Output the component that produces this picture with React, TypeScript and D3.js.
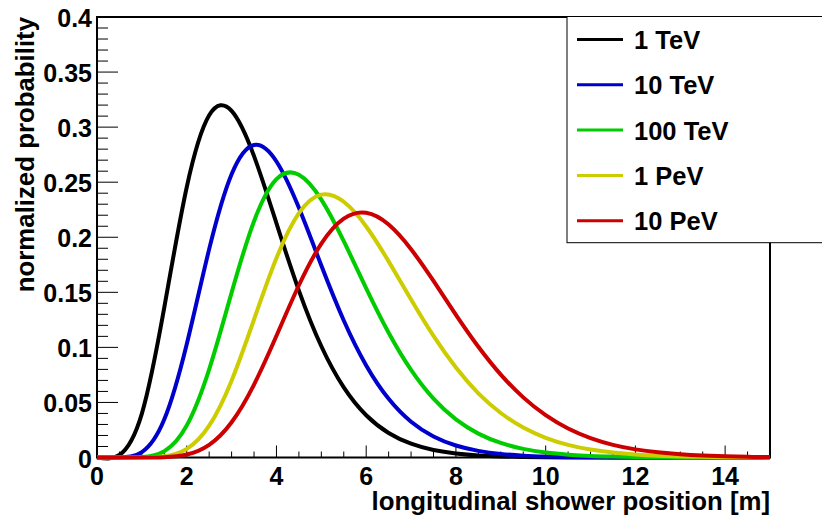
import React from "react";
import * as d3 from "d3";

const xValues = [0, 0.5, 1, 1.5, 2, 2.5, 3, 3.5, 4, 4.5, 5, 5.5, 6, 6.5, 7, 7.5, 8, 8.5, 9, 9.5, 10, 10.5, 11, 11.5, 12, 12.5, 13, 13.5, 14, 14.5, 15];

const tev1 = [0, 0.0024, 0.0399, 0.1363, 0.2454, 0.3107, 0.3148, 0.2737, 0.2126, 0.1516, 0.101, 0.0637, 0.0384, 0.0223, 0.0125, 0.0068, 0.0037, 0.0019, 0.001, 0.0005, 0.0002, 0.0001, 0, 0, 0, 0, 0, 0, 0, 0, 0];
const tev10 = [0, 0.0001, 0.0049, 0.0347, 0.1029, 0.1892, 0.2572, 0.2838, 0.2688, 0.2267, 0.1743, 0.1244, 0.0836, 0.0533, 0.0325, 0.0191, 0.0109, 0.006, 0.0032, 0.0017, 0.0009, 0.0004, 0.0002, 0.0001, 0, 0, 0, 0, 0, 0, 0];
const tev100 = [0, 0, 0.0004, 0.0057, 0.029, 0.08, 0.1497, 0.2146, 0.2528, 0.2567, 0.2342, 0.1964, 0.1536, 0.1133, 0.0795, 0.0534, 0.0346, 0.0217, 0.0132, 0.0078, 0.0045, 0.0026, 0.0014, 0.0008, 0.0004, 0.0002, 0.0001, 0, 0, 0, 0];
const pev1 = [0, 0, 0, 0.0011, 0.0078, 0.0289, 0.0698, 0.1253, 0.1811, 0.2219, 0.2387, 0.2322, 0.2098, 0.1781, 0.1435, 0.1104, 0.0817, 0.0583, 0.0404, 0.0272, 0.0179, 0.0115, 0.0072, 0.0045, 0.0027, 0.0016, 0.001, 0.0006, 0.0003, 0.0002, 0.0001];
const pev10 = [0, 0, 0, 0.0003, 0.0027, 0.0115, 0.032, 0.0662, 0.1105, 0.1564, 0.1942, 0.2169, 0.2222, 0.2115, 0.1891, 0.1603, 0.1296, 0.1006, 0.0753, 0.0546, 0.0384, 0.0263, 0.0176, 0.0115, 0.0074, 0.0047, 0.0029, 0.0018, 0.0011, 0.0006, 0.0004];

const seriesNames = ["1 TeV", "10 TeV", "100 TeV", "1 PeV", "10 PeV"];
const seriesValues = [tev1, tev10, tev100, pev1, pev10];
const seriesColors = ["#000000", "#0000cc", "#00cc00", "#cccc00", "#cc0000"];

const xMajorTicks = [0, 2, 4, 6, 8, 10, 12, 14];
const xTickLabels = ["0", "2", "4", "6", "8", "10", "12", "14"];
const yMajorTicks = [0, 0.05, 0.1, 0.15, 0.2, 0.25, 0.3, 0.35, 0.4];
const yTickLabels = ["0", "0.05", "0.1", "0.15", "0.2", "0.25", "0.3", "0.35", "0.4"];

const xTitle = "longitudinal shower position [m]";
const yTitle = "normalized probability";

export default function App() {
  const W = 822;
  const H = 521;
  const left = 97;
  const right = 770;
  const top = 17;
  const bottom = 457.5;

  const x = d3.scaleLinear().domain([0, 15]).range([left, right]);
  const y = d3.scaleLinear().domain([0, 0.4]).range([bottom, top]);

  const xMinor = d3.range(0, 15.001, 0.5).filter((v) => Math.abs(v / 2 - Math.round(v / 2)) > 1e-6);
  const yMinor = d3.range(0, 0.4001, 0.01).filter((v) => Math.abs(v / 0.05 - Math.round(v / 0.05)) > 1e-6);

  const line = d3
    .line<number>()
    .x((_, i) => x(xValues[i]))
    .y((d) => y(d))
    .curve(d3.curveNatural);

  const font = "'Liberation Sans', Arial, Helvetica, sans-serif";
  const legX = 567;
  const legTop = 16.5;
  const legRowY = (i: number) => 39.5 + i * 45.3;

  return (
    <svg
      width={W}
      height={H}
      viewBox={`0 0 ${W} ${H}`}
      style={{ position: "absolute", left: 0, top: 0, background: "#fff" }}
      fontFamily={font}
      fontWeight="bold"
    >
      <rect x={0} y={0} width={W} height={H} fill="#fff" />
      {/* ticks */}
      {xMajorTicks.map((v) => (
        <line key={"xM" + v} x1={x(v)} x2={x(v)} y1={bottom} y2={bottom - 12} stroke="#000" strokeWidth={1} />
      ))}
      {xMinor.map((v) => (
        <line key={"xm" + v} x1={x(v)} x2={x(v)} y1={bottom} y2={bottom - 6} stroke="#000" strokeWidth={1} />
      ))}
      {yMajorTicks.map((v) => (
        <line key={"yM" + v} x1={left} x2={left + 21} y1={y(v)} y2={y(v)} stroke="#000" strokeWidth={1} />
      ))}
      {yMinor.map((v) => (
        <line key={"ym" + v} x1={left} x2={left + 11} y1={y(v)} y2={y(v)} stroke="#000" strokeWidth={1} />
      ))}
      {/* frame */}
      <rect x={left} y={top} width={right - left} height={bottom - top} fill="none" stroke="#000" strokeWidth={2} />
      {/* curves */}
      {seriesValues.map((vals, i) => (
        <path key={seriesNames[i]} d={line(vals) || ""} fill="none" stroke={seriesColors[i]} strokeWidth={4} strokeLinejoin="round" />
      ))}
      {/* tick labels */}
      {xMajorTicks.map((v, i) => (
        <text key={"xl" + v} x={x(v)} y={485} textAnchor="middle" fontSize={25} fill="#000">
          {xTickLabels[i]}
        </text>
      ))}
      {yMajorTicks.map((v, i) => (
        <text key={"yl" + v} x={92} y={y(v) + 10} textAnchor="end" fontSize={25} fill="#000">
          {yTickLabels[i]}
        </text>
      ))}
      {/* axis titles */}
      <text x={right} y={510} textAnchor="end" fontSize={25.8} fill="#000">
        {xTitle}
      </text>
      <text transform={`translate(34, ${top}) rotate(-90)`} textAnchor="end" fontSize={25.8} fill="#000">
        {yTitle}
      </text>
      {/* legend */}
      <rect x={legX} y={legTop} width={W - legX + 10} height={242.7 - legTop} fill="#fff" stroke="#000" strokeWidth={1} />
      {seriesNames.map((name, i) => (
        <g key={"leg" + name}>
          <line x1={577} x2={623} y1={legRowY(i)} y2={legRowY(i)} stroke={seriesColors[i]} strokeWidth={3} />
          <text x={634} y={legRowY(i) + 9.5} fontSize={25.5} fill="#000">
            {name}
          </text>
        </g>
      ))}
    </svg>
  );
}
